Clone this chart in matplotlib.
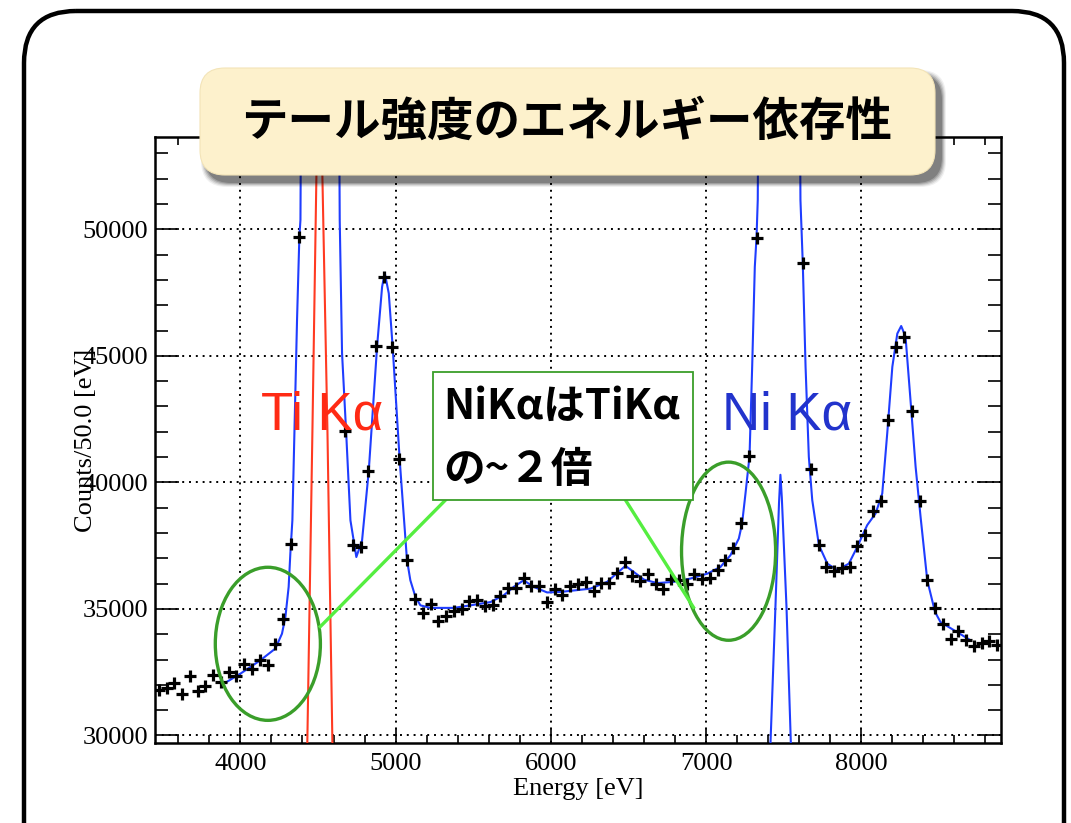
import numpy as np
import matplotlib
matplotlib.use("Agg")
import matplotlib.pyplot as plt
from matplotlib.patches import FancyBboxPatch, Ellipse, Rectangle
from matplotlib.ticker import MultipleLocator

# measured spectrum (Counts / 50 eV bin), only bins visible inside the frame
energy = [3475, 3525, 3575, 3625, 3675, 3725, 3775, 3825, 3875, 3925, 3975,
          4025, 4075, 4125, 4175, 4225, 4275, 4325, 4375,
          4675, 4725, 4775, 4825, 4875, 4925, 4975, 5025, 5075, 5125, 5175,
          5225, 5275, 5325, 5375, 5425, 5475, 5525, 5575, 5625, 5675, 5725,
          5775, 5825, 5875, 5925, 5975, 6025, 6075, 6125, 6175, 6225, 6275,
          6325, 6375, 6425, 6475, 6525, 6575, 6625, 6675, 6725, 6775, 6825,
          6875, 6925, 6975, 7025, 7075, 7125, 7175, 7225, 7275, 7325,
          7625, 7675, 7725, 7775, 7825, 7875, 7925, 7975, 8025, 8075, 8125,
          8175, 8225, 8275, 8325, 8375, 8425, 8475, 8525, 8575, 8625, 8675,
          8725, 8775, 8825, 8875]
counts = [31780, 31870, 32070, 31620, 32330, 31740, 31950, 32370, 32120, 32500, 32330,
          32810, 32620, 32970, 32780, 33610, 34620, 37580, 49710,
          42030, 37520, 37450, 40460, 45400, 48130, 45360, 40920, 36950, 35390, 34840,
          35210, 34520, 34710, 34930, 35010, 35310, 35370, 35100, 35170, 35500, 35820,
          35840, 36210, 35920, 35890, 35270, 35800, 35540, 35910, 36000, 36050, 35700,
          36040, 36020, 36420, 36860, 36290, 36090, 36360, 36000, 35780, 36170, 36130,
          35970, 36360, 36170, 36220, 36530, 36940, 37420, 38400, 41040, 49670,
          48660, 40510, 37520, 36660, 36490, 36620, 36660, 37500, 37930, 38860, 39270,
          42460, 45360, 45760, 42830, 39270, 36160, 35040, 34390, 33800, 34130, 33760,
          33530, 33660, 33720, 33590]

# fit curve (blue)
fit_e = [3900, 4000, 4129, 4225, 4268, 4290, 4311, 4322, 4335, 4365, 4380, 4387,
         4510, 4640, 4655, 4681, 4709, 4747, 4784, 4827, 4881, 4913, 4930, 4956,
         4981, 5026, 5073, 5095, 5128, 5160, 5224, 5374, 5482, 5611, 5697, 5761,
         5825, 5890, 5976, 6062, 6255, 6363, 6427, 6481, 6534, 6599, 6685, 6792,
         6900, 7007, 7093, 7157, 7211, 7232, 7254, 7280, 7297, 7314, 7325, 7333,
         7470, 7608, 7623, 7641, 7662, 7684, 7727, 7781, 7845, 7920, 7974, 8038,
         8092, 8135, 8167, 8200, 8232, 8257, 8285, 8317, 8350, 8382, 8425, 8475,
         8510, 8564, 8693]
fit_c = [32070, 32440, 32970, 33430, 34020, 34680, 35870, 37200, 38500, 46420, 49710, 50370,
         200000, 50370, 45100, 42030, 38500, 37050, 37710, 40450, 45400, 47730, 48280, 47470,
         45360, 40920, 36950, 36130, 35470, 35140, 35040, 35040, 35140, 35270, 35540, 35870,
         36130, 35870, 35650, 35670, 35800, 36070, 36420, 36700, 36460, 36160, 36020, 36070,
         36200, 36390, 36660, 37120, 37780, 38370, 39560, 41040, 44570, 48520, 49670, 51160,
         200000, 51160, 48660, 44570, 41010, 39300, 37520, 36790, 36530, 36790, 37450, 38310,
         38770, 39560, 41930, 44570, 45880, 46180, 45760, 43250, 40610, 38630, 36130, 34880,
         34480, 34280, 33800]

# Ti Ka component (red)
ti_e = [4420, 4464, 4490, 4510, 4528, 4561, 4605]
ti_c = [25500, 42000, 52200, 90000, 52200, 42000, 25000]

# narrow blue component near 7.48 keV
ni_e = [7405, 7447, 7470, 7479, 7488, 7518, 7555]
ni_c = [28000, 35100, 39200, 40300, 39400, 35100, 28000]

fig = plt.figure(figsize=(10.71, 8.23), dpi=100)
ax = fig.add_axes([155 / 1071, 1 - 743 / 823, 846 / 1071, 606 / 823])

ax.plot(energy, counts, linestyle='none', marker='+', color='black',
        markersize=9, markeredgewidth=2.3, zorder=4)
ax.plot(fit_e, fit_c, color='#1f3dff', linewidth=1.5, zorder=3)
ax.plot(ti_e, ti_c, color='#ff3a22', linewidth=1.5, zorder=3)
ax.plot(ni_e, ni_c, color='#1f3dff', linewidth=1.5, zorder=3)

ax.set_xlim(3450, 8900)
ax.set_ylim(29700, 53650)
ax.xaxis.set_major_locator(MultipleLocator(1000))
ax.xaxis.set_minor_locator(MultipleLocator(200))
ax.yaxis.set_major_locator(MultipleLocator(5000))
ax.yaxis.set_minor_locator(MultipleLocator(1000))
ax.tick_params(which='both', direction='in', top=True, right=True, width=1.2,
               labelsize=19, color='black')
ax.tick_params(axis='x', which='major', length=10, pad=7)
ax.tick_params(axis='x', which='minor', length=6)
ax.tick_params(axis='y', which='major', length=17, pad=5)
ax.tick_params(axis='y', which='minor', length=9.5)
for lab in ax.get_xticklabels() + ax.get_yticklabels():
    lab.set_family('Liberation Serif')
for sp in ax.spines.values():
    sp.set_linewidth(1.8)
ax.grid(True, which='major', linestyle=(0, (1, 2.5)), color='black', linewidth=1.4)

ax.set_xlabel('Energy [eV]', family='Liberation Serif', fontsize=19)
ax.set_ylabel('Counts/50.0 [eV]', family='Liberation Serif', fontsize=19)
ax.xaxis.set_label_coords(0.5, -0.058)
ax.yaxis.set_label_coords(-0.068, 0.5)

# annotations
ax.text(4135, 42650, 'Ti Kα', color='#ff2a14', fontsize=38,
        family='Liberation Sans', va='center', ha='left', zorder=5)
ax.text(7100, 42650, 'Ni Kα', color='#2233cc', fontsize=38,
        family='Liberation Sans', va='center', ha='left', zorder=5)

ax.add_patch(Ellipse((4177, 33620), 677, 6050, fill=False, edgecolor='#3a9e2a',
                     linewidth=2.4, zorder=6, clip_on=False))
ax.add_patch(Ellipse((7145, 37280), 606, 7040, fill=False, edgecolor='#3a9e2a',
                     linewidth=2.4, zorder=6, clip_on=False))
ax.plot([5321, 4515], [39300, 34300], color='#55ee40', linewidth=2.4, zorder=6)
ax.plot([6481, 6919], [39300, 35060], color='#55ee40', linewidth=2.4, zorder=6)

ax.add_patch(Rectangle((5244, 39300), 1675, 5070, facecolor='white',
                       edgecolor='#3a9e2a', linewidth=1.3, zorder=7))
jp = ['Noto Sans CJK JP', 'DejaVu Sans']
ax.text(5305, 42980, 'NiKαはTiKα', fontsize=30, fontweight='bold', family=jp,
        va='center', ha='left', zorder=8)
ax.text(5305, 40480, 'の~２倍', fontsize=30, fontweight='bold', family=jp,
        va='center', ha='left', zorder=8)

# frame and title box, drawn in pixel units on top
deco = fig.add_axes([0, 0, 1, 1], zorder=10)
deco.set_xlim(0, 1071)
deco.set_ylim(823, 0)
deco.axis('off')
deco.patch.set_alpha(0)

deco.add_patch(FancyBboxPatch((24, 11), 1040, 900,
                              boxstyle='round,pad=0,rounding_size=52',
                              fill=False, edgecolor='black', linewidth=3.2))
for i, a in enumerate([0.06, 0.09, 0.12, 0.16, 0.2]):
    s = 5 - i
    deco.add_patch(FancyBboxPatch((200 + 6 - s, 68 + 7 - s), 735 + 2 * s, 107 + 2 * s,
                                  boxstyle='round,pad=0,rounding_size=26',
                                  facecolor='black', edgecolor='none', alpha=a))
deco.add_patch(FancyBboxPatch((200, 68), 735, 107,
                              boxstyle='round,pad=0,rounding_size=25',
                              facecolor='#fdf1cc', edgecolor='#f3e4b8', linewidth=0.8))
deco.text(567, 122, 'テール強度のエネルギー依存性', fontsize=33.5, fontweight='bold',
          family=jp, ha='center', va='center')

fig.savefig('out.png', dpi=100)
